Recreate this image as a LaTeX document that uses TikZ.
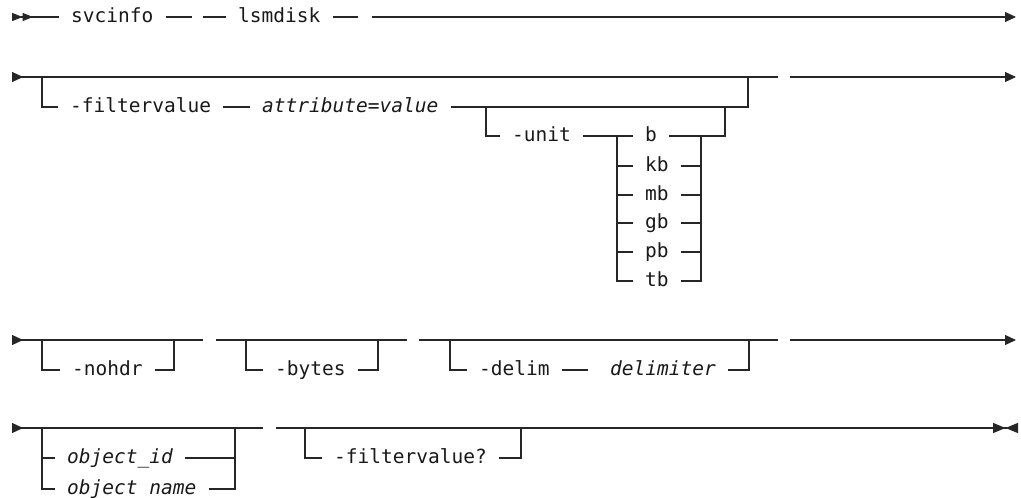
\documentclass[tikz,border=0pt]{standalone}
\usepackage{fontspec}
\setmonofont{DejaVu Sans Mono}
\usetikzlibrary{arrows.meta,calc}

\begin{document}
\begin{tikzpicture}[x=1pt,y=-1pt,
  rail/.style={draw=black!85, line width=1.1pt},
  railstart/.style={rail, {Triangle[reversed,length=11pt,width=10pt]}-},
  railstarttwo/.style={rail, {Triangle[reversed,length=10.5pt,width=8pt]Triangle[reversed,length=10.5pt,width=8pt]}-},
  railgo/.style={rail, -{Triangle[length=11pt,width=10pt]}},
  railend/.style={rail, -{Triangle[length=12.5pt,width=10pt]Triangle[reversed,length=12.5pt,width=10pt]}},
  kw/.style={anchor=west, inner xsep=12pt, inner ysep=0pt, text height=10.6pt, text depth=0pt,
             text=black!90, font=\ttfamily\fontsize{19.5}{20}\selectfont},
  var/.style={kw, font=\ttfamily\itshape\fontsize{19.5}{20}\selectfont}]
\useasboundingbox (0,0) rectangle (1021,498);
%% row 1: command
\coordinate (s1) at (12,17);
\node[kw] (svcinfo) at (59,17) {svcinfo};
\node[kw] (lsmdisk) at (226,17) {lsmdisk};
\coordinate (j1) at (192,17);
\coordinate (j2) at (203,17);
\coordinate (j3) at (358,17);
\coordinate (j4) at (372,17);
\coordinate (e1) at (1016,17);
\draw[railstarttwo] (s1) -- (svcinfo.west);
\draw[rail] (svcinfo.east) -- (j1);
\draw[rail] (j2) -- (lsmdisk.west);
\draw[rail] (lsmdisk.east) -- (j3);
\draw[railgo] (j4) -- (e1);
%% row 2: -filtervalue
\coordinate (s2) at (12,77);
\coordinate (g2a) at (778,77);
\coordinate (g2b) at (790,77);
\coordinate (e2) at (1016,77);
\coordinate (fvl) at (42,77);
\coordinate (fvr) at (748,77);
\node[kw] (fv) at (58,107) {-filtervalue};
\node[var] (attr) at (250,107) {attribute=value};
\draw[railstart] (s2) -- (g2a);
\draw[railgo] (g2b) -- (e2);
\draw[rail] (fvl) |- (fv.west);
\draw[rail] (fv.east) -- (attr.west);
\draw[rail] (attr.east) -| (fvr);
%% -unit and its values
\coordinate (unl) at (486,107);
\coordinate (unr) at (725,107);
\coordinate (ull) at (617,136);
\coordinate (ulr) at (701,136);
\node[kw] (unit) at (500,136) {-unit};
\node[kw] (ub) at (633,136) {b};
\foreach \u/\y in {kb/166,mb/195,gb/223,pb/252,tb/281}
  \node[kw] (u\u) at (633,\y) {\u};
\draw[rail] (unl) |- (unit.west);
\draw[rail] (unit.east) -- (ub.west);
\draw[rail] (ub.east) -| (unr);
\foreach \u in {kb,mb,gb,pb,tb} {
  \draw[rail] (ull) |- (u\u.west);
  \draw[rail] (u\u.east) -| (ulr);
}
%% row 3: -nohdr, -bytes, -delim
\coordinate (s3) at (12,340);
\coordinate (g3a) at (203,340);
\coordinate (g3b) at (216,340);
\coordinate (g3c) at (407,340);
\coordinate (g3d) at (419,340);
\coordinate (g3e) at (778,340);
\coordinate (g3f) at (790,340);
\coordinate (e3) at (1016,340);
\draw[railstart] (s3) -- (g3a);
\draw[rail] (g3b) -- (g3c);
\draw[rail] (g3d) -- (g3e);
\draw[railgo] (g3f) -- (e3);
\coordinate (nhl) at (42,340);
\coordinate (nhr) at (174,340);
\node[kw] (nohdr) at (60,370) {-nohdr};
\draw[rail] (nhl) |- (nohdr.west);
\draw[rail] (nohdr.east) -| (nhr);
\coordinate (byl) at (246,340);
\coordinate (byr) at (378,340);
\node[kw] (bytes) at (263,370) {-bytes};
\draw[rail] (byl) |- (bytes.west);
\draw[rail] (bytes.east) -| (byr);
\coordinate (dll) at (450,340);
\coordinate (dlr) at (749,340);
\node[kw] (delim) at (467,370) {-delim};
\node[var] (dlm) at (598,370) {delimiter};
\draw[rail] (dll) |- (delim.west);
\draw[rail, shorten >=10pt] (delim.east) -- (dlm.west);
\draw[rail] (dlm.east) -| (dlr);
%% row 4: object, -filtervalue?
\coordinate (s4) at (12,428);
\coordinate (g4a) at (263,428);
\coordinate (g4b) at (276,428);
\coordinate (e4) at (1018,428);
\draw[railstart] (s4) -- (g4a);
\draw[railend] (g4b) -- (e4);
\coordinate (obl) at (42,428);
\coordinate (obr) at (235,428);
\node[var] (oid) at (55,458) {object\_id};
\node[var] (oname) at (55,489) {object name};
\draw[rail] (obl) |- (oid.west);
\draw[rail] (obl) |- (oname.west);
\draw[rail] (oid.east) -| (obr);
\draw[rail] (oname.east) -| (obr);
\coordinate (fql) at (305,428);
\coordinate (fqr) at (521,428);
\node[kw] (fq) at (322,458) {-filtervalue?};
\draw[rail] (fql) |- (fq.west);
\draw[rail] (fq.east) -| (fqr);
\end{tikzpicture}
\end{document}
